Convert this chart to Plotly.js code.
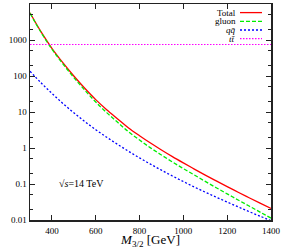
<!DOCTYPE html>
<html><head><meta charset="utf-8">
<script src="https://cdn.plot.ly/plotly-3.0.1.min.js"></script>
<style>html,body{margin:0;padding:0;background:#fff}#c{width:282px;height:249px}</style>
</head><body><div id="c"></div>
<script>
const mass = [300,350,400,450,500,550,600,650,700,750,800,850,900,950,1000,1050,1100,1150,1200,1250,1300,1350,1400];
const total = [5700,1700,589,234,100,45.7,22.1,11.6,6.43,3.61,2.19,1.37,0.879,0.575,0.385,0.260,0.177,0.122,0.0847,0.0591,0.0415,0.0294,0.0209];
const gluon = [5560,1635,556,217,90.5,40.3,18.9,9.6,5.17,2.80,1.66,1.01,0.637,0.408,0.268,0.178,0.118,0.0789,0.0532,0.0359,0.0244,0.0166,0.0113];
const qqbar = [136,65.0,33.0,17.3,9.51,5.44,3.23,1.99,1.26,0.809,0.530,0.356,0.242,0.167,0.117,0.0824,0.0594,0.0431,0.0315,0.0232,0.0171,0.0128,0.00957];
const ttbarMass = [300,1400];
const ttbar = [750,750];
const yTickVals = [0.01,0.1,1,10,100,1000,10000];
const yTickText = ['0.01','0.1','1','10','100','1000','10000'];
const xTickVals = [400,600,800,1000,1200,1400];
const legendNames = ['Total','gluon','<i>q</i><i>q̄</i>','<i>t</i><i>t̄</i>'];

const colors = ['#ff0000','#00ee00','#0000ff','#ff00ff'];
const dashes = ['solid','4px,2px','2px,2px','1.5px,1.5px'];
const serif = 'Liberation Serif, DejaVu Serif, serif';

const traces = [
  {x:mass,y:total,mode:'lines',line:{color:colors[0],width:1.3,dash:dashes[0]}},
  {x:mass,y:gluon,mode:'lines',line:{color:colors[1],width:1.3,dash:dashes[1]}},
  {x:mass,y:qqbar,mode:'lines',line:{color:colors[2],width:1.3,dash:dashes[2]}},
  {x:ttbarMass,y:ttbar,mode:'lines',line:{color:colors[3],width:1.2,dash:dashes[3]}}
].map(t=>Object.assign(t,{line:Object.assign(t.line,{shape:'spline'}),showlegend:false,hoverinfo:'none'}));

const annotations = [];
const shapes = [];
const rowY = [12.6,21.3,30,38.7];
legendNames.forEach((n,i)=>{
  annotations.push({xref:'paper',yref:'paper',x:(237-30)/241,y:1-(rowY[i]-4)/216,xanchor:'right',yanchor:'middle',
    text:n,showarrow:false,font:{family:serif,size:9,color:'#000'},borderpad:0});
  shapes.push({type:'line',xref:'paper',yref:'paper',x0:(240-30)/241,x1:(262-30)/241,
    y0:1-(rowY[i]-4)/216,y1:1-(rowY[i]-4)/216,line:{color:colors[i],width:1.3,dash:dashes[i]}});
});
annotations.push({xref:'paper',yref:'paper',x:(57-30)/241,y:1-(183.5-4)/216,xanchor:'left',yanchor:'middle',
  text:'√<i>s</i>=14 TeV',showarrow:false,font:{family:serif,size:10,color:'#000'}});

const axisCommon = {showline:true,linecolor:'#222',linewidth:1.5,mirror:'ticks',ticks:'inside',
  tickcolor:'#222',tickwidth:1,ticklen:5,showgrid:false,zeroline:false,
  tickfont:{family:serif,size:9,color:'#000'}};

const layout = {
  width:282,height:249,margin:{l:30,r:11,t:4,b:29},
  paper_bgcolor:'#fff',plot_bgcolor:'#fff',
  xaxis:Object.assign({},axisCommon,{range:[300,1400],tickmode:'array',tickvals:xTickVals,
    ticklabelstandoff:2,
    title:{text:'<i>M</i><sub>3/2</sub> [GeV]',font:{family:serif,size:13,color:'#000'},standoff:5}}),
  yaxis:Object.assign({},axisCommon,{type:'log',range:[-2,4],tickmode:'array',tickvals:yTickVals,ticktext:yTickText,
    minor:{dtick:'D2',ticks:'inside',ticklen:3,tickcolor:'#222',tickwidth:1,showgrid:false}}),
  annotations:annotations,shapes:shapes,showlegend:false
};
Plotly.newPlot('c',traces,layout,{staticPlot:true,displayModeBar:false});
</script></body></html>
